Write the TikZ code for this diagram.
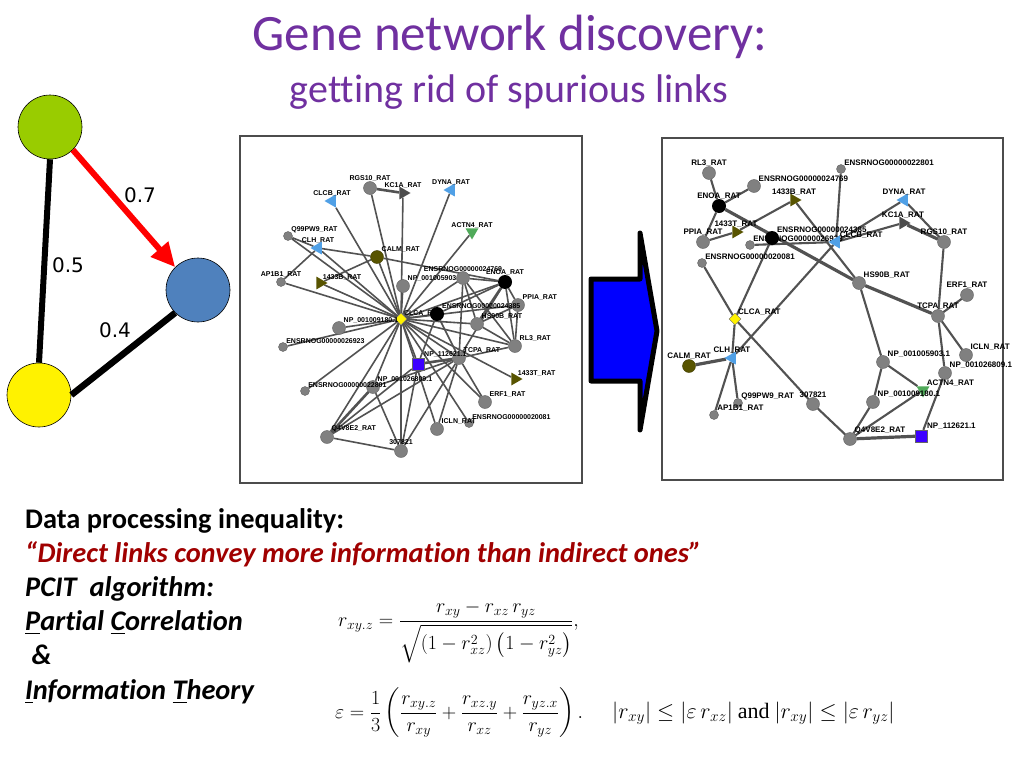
\RequirePackage{fix-cm}
\documentclass[tikz,border=0pt]{standalone}
\usepackage{amsmath}
\usepackage{fontspec}
\setmainfont{Carlito}[Ligatures=CommonOff]
\newfontfamily\lblfont{Liberation Sans}
\newfontfamily\numfont{DejaVu Sans}
\newfontfamily\eqserif{Liberation Serif}
\usetikzlibrary{shapes.geometric,arrows.meta,backgrounds}
\definecolor{ttl}{RGB}{112,48,160}
\definecolor{quot}{RGB}{160,0,0}
\definecolor{ngrey}{RGB}{128,128,128}
\definecolor{nolive}{RGB}{88,84,0}
\definecolor{nblue}{RGB}{80,160,230}
\definecolor{ngreen}{RGB}{80,170,90}
\definecolor{nsq}{RGB}{60,0,255}
\definecolor{vgreen}{RGB}{153,204,0}
\definecolor{vblue}{RGB}{79,129,189}
\tikzset{
  gn/.style={circle,fill=ngrey,draw=ngrey!75!black,minimum size=13pt,inner sep=0pt},
  gns/.style={gn,minimum size=9pt},
  gbk/.style={circle,fill=black,minimum size=14pt,inner sep=0pt},
  gol/.style={circle,fill=nolive,draw=nolive!70!black,minimum size=13pt,inner sep=0pt},
  tri/.style={regular polygon,regular polygon sides=3,minimum size=15pt,inner sep=0pt},
  tbl/.style={tri,fill=nblue,shape border rotate=90},
  tdk/.style={tri,fill=black!70,shape border rotate=-90},
  tol/.style={tri,fill=nolive,shape border rotate=-90},
  tgr/.style={tri,fill=ngreen,shape border rotate=180},
  dya/.style={diamond,fill=yellow,draw=black!60,minimum size=12pt,inner sep=0pt},
  sqb/.style={rectangle,fill=nsq,draw=black!60,minimum size=12pt,inner sep=0pt},
  lbl/.style={font=\lblfont\bfseries\fontsize{7}{8}\selectfont,inner sep=0.5pt,label distance=-1pt},
  lblr/.style={lbl,font=\lblfont\bfseries\fontsize{8}{9}\selectfont},
  lnk/.style={draw=black!68,line width=1.6pt},
  lnkw/.style={draw=black!68,line width=2.6pt},
  lnkr/.style={draw=black!68,line width=2.1pt},
  lnkrw/.style={draw=black!68,line width=3.2pt},
  vtx/.style={circle,draw=black,line width=0.6pt,minimum size=64pt,inner sep=0pt},
  txtl/.style={anchor=base west,inner sep=0pt,font=\fontsize{28.4}{34}\selectfont\bfseries},
  txti/.style={txtl,font=\fontsize{28.4}{34}\selectfont\bfseries\itshape},
}
\begin{document}
\begin{tikzpicture}[x=1pt,y=-1pt]
\useasboundingbox (0,0) rectangle (1024,768);
\begin{pgfonlayer}{background}
\fill[white] (0,0) rectangle (1024,768);
\end{pgfonlayer}

\node[anchor=base,text=ttl,font=\fontsize{51}{60}\selectfont] (title) at (510,51) {Gene network discovery:};
\node[anchor=base,text=ttl,font=\fontsize{40}{48}\selectfont] (subtitle) at (509,102) {getting rid of spurious links};

\node[vtx,fill=vgreen] (gA) at (50,127) {};
\node[vtx,fill=vblue] (gB) at (198,290) {};
\node[vtx,fill=yellow] (gC) at (39,395) {};
\draw[line width=6pt] (gA.south) -- (gC.north);
\draw[line width=6.5pt] (gC.0) -- (gB.225);
\draw[red,line width=6pt,-{Triangle[length=24pt,width=22pt]}] (gA.-45) -- (gB.135);
\node[font=\numfont\fontsize{20}{24}\selectfont] (wAB) at (140,195) {0.7};
\node[font=\numfont\fontsize{20}{24}\selectfont] (wAC) at (68,265) {0.5};
\node[font=\numfont\fontsize{20}{24}\selectfont] (wBC) at (115,330) {0.4};

\draw[black!70,line width=1.2pt] (240,136) rectangle (582,483);
\foreach \nm/\pos/\st/\tx/\lp in {
  rgs/{370,188}/gn/RGS10\_RAT/above, kc1a/{403,193}/tdk/KC1A\_RAT/above,
  dyna/{451,190}/tbl/DYNA\_RAT/above, clcb/{332,201}/tbl/CLCB\_RAT/above,
  actn/{472,232}/tgr/ACTN4\_RAT/above, q99/{288,236}/gns/Q99PW9\_RAT/above right,
  clh/{318,248}/tbl/CLH\_RAT/above, calm/{377,257}/gol/CALM\_RAT/above right,
  ap1/{281,282}/gns/AP1B1\_RAT/above, 1433b/{320,283}/tol/1433B\_RAT/above right,
  np5903/{403,286}/gn/NP\_001005903.1/above right, e24769/{463,278}/gn/ENSRNOG00000024769/above,
  enoa/{505,282}/gbk/ENOA\_RAT/above, ppia/{518,305}/gn/PPIA\_RAT/above right,
  e24385/{437,314}/gbk/ENSRNOG00000024385/above right, clca/{401,319}/dya/CLCA\_RAT/above right,
  hs90/{477,324}/gn/HS90B\_RAT/above right, rl3/{515,346}/gn/RL3\_RAT/above right,
  np9180/{339,328}/gn/NP\_001009180.1/above right, e26923/{283,347}/gns/ENSRNOG00000026923/above right,
  tcpa/{459,358}/gn/TCPA\_RAT/above right, np112/{418,364}/sqb/NP\_112621.1/above right,
  1433t/{515,379}/tol/1433T\_RAT/above right, np26809/{373,387}/gn/NP\_001026809.1/above right,
  e22801/{305,391}/gns/ENSRNOG00000022801/above right, erf1/{485,402}/gn/ERF1\_RAT/above right,
  e20081/{469,423}/gns/ENSRNOG00000020081/above right, icln/{437,429}/gn/ICLN\_RAT/above right,
  q4v/{327,437}/gn/Q4V8E2\_RAT/above right, 307/{401,451}/gn/307821/above}
  \node[\st,label={[lbl]\lp:\tx}] (l\nm) at (\pos) {};
\begin{pgfonlayer}{background}
\foreach \b in {rgs,kc1a,dyna,clcb,actn,q99,clh,calm,ap1,1433b,np5903,e24769,enoa,ppia,e24385,hs90,rl3,np9180,e26923,tcpa,np112,1433t,np26809,e22801,erf1,e20081,icln,q4v,307}
  \draw[lnk] (lclca) -- (l\b);
\foreach \a/\b in {clh/calm,calm/enoa,ap1/clh,1433b/calm,e24769/enoa,e24769/tcpa,e24769/hs90,e24769/rl3,enoa/e24385,enoa/rl3,enoa/ppia,enoa/tcpa,ppia/rl3,ppia/hs90,hs90/rl3,e24385/tcpa,e24385/np112,rl3/tcpa,tcpa/np26809,tcpa/erf1,tcpa/icln,tcpa/q4v,tcpa/307,np112/307,np26809/307,q4v/307,np112/q4v,q99/clh}
  \draw[lnk] (l\a) -- (l\b);
\foreach \a/\b in {rgs/kc1a,enoa/hs90,tcpa/np112,np26809/q4v}
  \draw[lnkw] (l\a) -- (l\b);
\end{pgfonlayer}

\draw[black,fill=blue,line width=5pt,line join=round] (591,279) -- (640,279) -- (640,233) -- (657,331) -- (640,430) -- (640,381) -- (591,381) -- cycle;

\draw[black!70,line width=1.2pt] (662,138) rectangle (1003,480);
\foreach \nm/\pos/\st/\tx/\lp in {
  rl3/{709,173}/gn/RL3\_RAT/above, e24769/{754,186}/gn/ENSRNOG00000024769/above right,
  e22801/{841,169}/gns/ENSRNOG00000022801/above right, enoa/{719,206}/gbk/ENOA\_RAT/above,
  1433b/{794,200}/tol/1433B\_RAT/above, dyna/{904,200}/tbl/DYNA\_RAT/above,
  kc1a/{903,223}/tdk/KC1A\_RAT/above, 1433t/{736,232}/tol/1433T\_RAT/above,
  ppia/{703,242}/gn/PPIA\_RAT/above, e24385/{772,238}/gbk/ENSRNOG00000024385/above right,
  e26923/{750,245}/gns/ENSRNOG00000026923/above right, clcb/{836,242}/tbl/CLCB\_RAT/above right,
  rgs/{944,242}/gn/RGS10\_RAT/above, e20081/{702,263}/gns/ENSRNOG00000020081/above right,
  hs90/{859,283}/gn/HS90B\_RAT/above right, erf1/{967,295}/gn/ERF1\_RAT/above,
  tcpa/{938,316}/gn/TCPA\_RAT/above, clca/{735,319}/dya/CLCA\_RAT/above right,
  clh/{732,358}/tbl/CLH\_RAT/above, calm/{689,366}/gol/CALM\_RAT/above,
  icln/{966,355}/gn/ICLN\_RAT/above right, np5903/{883,362}/gn/NP\_001005903.1/above right,
  np26809/{945,373}/gn/NP\_001026809.1/above right, actn/{923,390}/tgr/ACTN4\_RAT/above right,
  q99/{738,403}/gns/Q99PW9\_RAT/above right, ap1/{714,415}/gns/AP1B1\_RAT/above right,
  307/{813,404}/gn/307821/above, np9180/{873,402}/gn/NP\_001009180.1/above right,
  q4v/{850,439}/gn/Q4V8E2\_RAT/above right, np112/{921,436}/sqb/NP\_112621.1/above right}
  \node[\st,label={[lblr]\lp:\tx}] (r\nm) at (\pos) {};
\begin{pgfonlayer}{background}
\foreach \a/\b in {rl3/enoa,e24769/enoa,enoa/ppia,ppia/1433t,1433t/1433b,1433b/hs90,e26923/clcb,e22801/clcb,clcb/dyna,clcb/kc1a,dyna/rgs,clcb/clh,e24385/clca,e20081/clca,hs90/np5903,rgs/tcpa,erf1/tcpa,tcpa/icln,tcpa/np26809,clca/clh,clca/307,clh/q99,clh/ap1,307/q4v,np5903/np9180,np5903/actn,np9180/q4v,actn/q4v,np26809/np112}
  \draw[lnkr] (r\a) -- (r\b);
\foreach \a/\b in {enoa/hs90,hs90/tcpa,kc1a/rgs,clh/calm,q4v/np112}
  \draw[lnkrw] (r\a) -- (r\b);
\end{pgfonlayer}

\node[txtl] (dpi) at (25,528) {Data processing inequality:};
\node[txti,text=quot] (quote) at (25,562) {“Direct links convey more information than indirect ones”};
\node[txti] (pcit) at (25,596) {PCIT\ \ algorithm:};
\node[txti] (pc) at (25,630) {\underline{P}artial \underline{C}orrelation};
\node[txti] (amp) at (25,664) {\ \&};
\node[txti] (it) at (25,699) {\underline{I}nformation \underline{T}heory};

\node[anchor=west,inner sep=0pt,font=\fontsize{20}{24}\selectfont] (eqr) at (338,632)
  {$r_{xy.z}=\dfrac{r_{xy}-r_{xz}\,r_{yz}}{\sqrt{\left(1-r_{xz}^2\right)\left(1-r_{yz}^2\right)}},$};
\node[anchor=west,inner sep=0pt,font=\fontsize{20}{24}\selectfont] (eqe) at (335,713)
  {$\varepsilon=\dfrac{1}{3}\left(\dfrac{r_{xy.z}}{r_{xy}}+\dfrac{r_{xz.y}}{r_{xz}}+\dfrac{r_{yz.x}}{r_{yz}}\right).$};
\node[anchor=west,inner sep=0pt,font=\fontsize{22}{26}\selectfont] (ineq) at (612,713)
  {$|r_{xy}|\le|\varepsilon\, r_{xz}|\ \text{\eqserif and}\ |r_{xy}|\le|\varepsilon\, r_{yz}|$};
\end{tikzpicture}
\end{document}
